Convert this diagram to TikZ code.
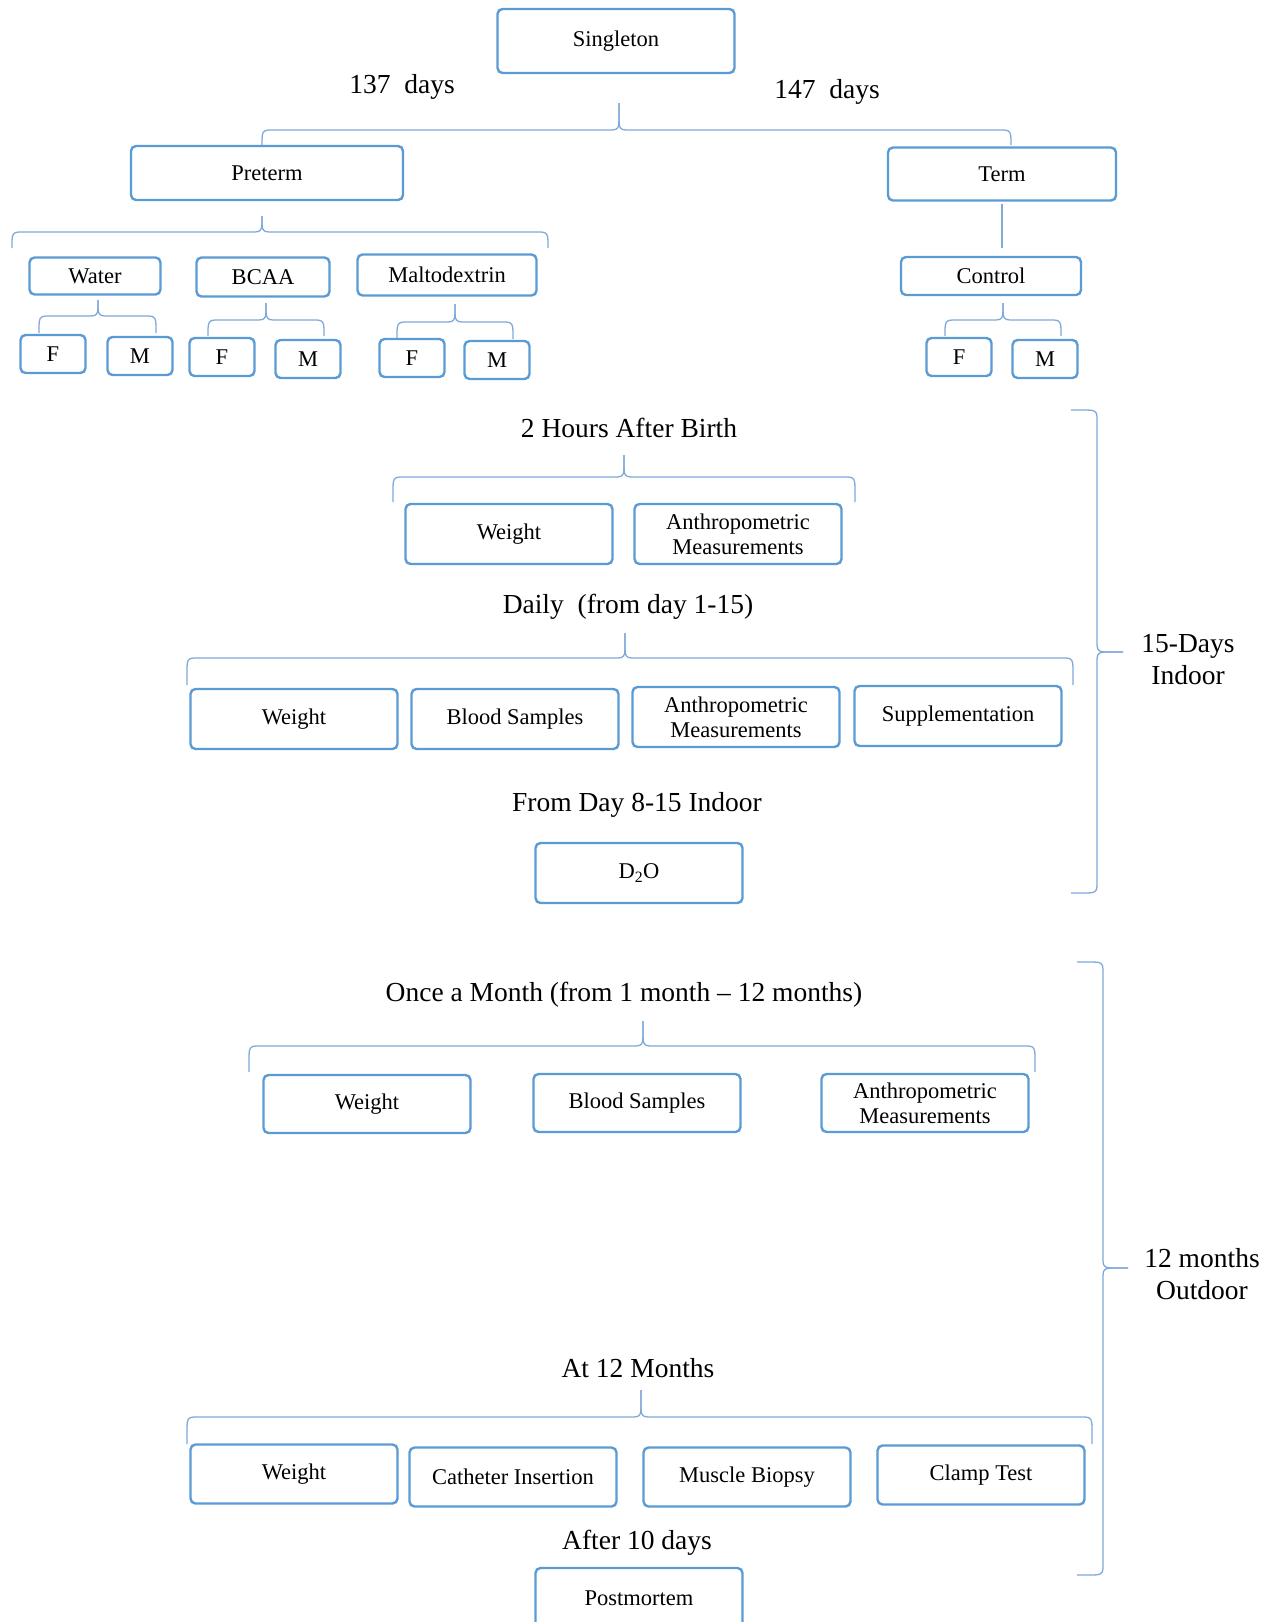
\documentclass[tikz,border=0pt]{standalone}
\usepackage{fontspec}
\setmainfont{Liberation Serif}
\usetikzlibrary{positioning}
\definecolor{Bx}{HTML}{5B9BD5}
\definecolor{Br}{HTML}{7FA9D8}
\newcommand{\bxfont}{\fontsize{22.5}{25}\selectfont}
\newcommand{\hdfont}{\fontsize{27.5}{32}\selectfont}
\tikzset{
  grp/.style={draw=Bx, line width=2.4pt, rounded corners=5pt, fill=white, inner sep=0pt, align=center, font=\bxfont},
  big/.style={grp, minimum width=207pt, minimum height=60pt},
  sex/.style={grp, minimum width=65pt, minimum height=38pt},
  hd/.style={font=\hdfont, align=center, inner sep=0pt},
  brc/.style={draw=Br, line width=1.3pt},
}
% x1, x2, tip x, bar y, tip y, end y
\newcommand{\hbrace}[6]{%
  \draw[brc] (#3,#5) -- (#3,{#4-9}) .. controls (#3,{#4-3}) and ({#3-1},#4) .. ({#3-7},#4)
    -- ({#1+7},#4) .. controls ({#1+1},#4) and (#1,{#4+3}) .. (#1,{#4+10}) -- (#1,#6);
  \draw[brc] (#3,#5) -- (#3,{#4-9}) .. controls (#3,{#4-3}) and ({#3+1},#4) .. ({#3+7},#4)
    -- ({#2-7},#4) .. controls ({#2-1},#4) and (#2,{#4+3}) .. (#2,{#4+10}) -- (#2,#6);}
% end x, bar x, tip x, top y, bottom y, tip y
\newcommand{\vbrace}[6]{%
  \draw[brc] (#3,#6) -- ({#2+9},#6) .. controls ({#2+3},#6) and (#2,{#6-1}) .. (#2,{#6-7})
    -- (#2,{#4+7}) .. controls (#2,{#4+1}) and ({#2-3},#4) .. ({#2-10},#4) -- (#1,#4);
  \draw[brc] (#3,#6) -- ({#2+9},#6) .. controls ({#2+3},#6) and (#2,{#6+1}) .. (#2,{#6+7})
    -- (#2,{#5-7}) .. controls (#2,{#5-1}) and ({#2-3},#5) .. ({#2-10},#5) -- (#1,#5);}

\begin{document}
\begin{tikzpicture}[x=1pt, y=-1pt]
  \useasboundingbox (0,0) rectangle (1278,1622);
  % groups
  \node[grp, minimum width=237pt, minimum height=64pt] (single) at (616,41) {Singleton};
  \node[hd] (d137) at (402,87) {137\ \ days};
  \node[hd] (d147) at (827,92) {147\ \ days};
  \hbrace{262}{1011}{619}{130}{103}{145}
  \node[grp, minimum width=272pt, minimum height=54pt] (pre) at (267,173) {Preterm};
  \node[grp, minimum width=228pt, minimum height=53pt] (term) at (1002,174) {Term};
  \hbrace{12}{548}{262}{232}{216}{248}
  \node[grp, minimum width=131pt, minimum height=37pt] (water) at (95,276) {Water};
  \node[grp, minimum width=133pt, minimum height=39pt] (bcaa) at (263,277) {BCAA};
  \node[grp, minimum width=179pt, minimum height=41pt] (malto) at (447,275) {Maltodextrin};
  \node[grp, minimum width=180pt, minimum height=38pt] (ctrl) at (991,276) {Control};
  \draw[brc, shorten <=2pt, shorten >=8pt] (term.south) -- (term.south |- ctrl.north);
  \hbrace{39}{156}{98}{316}{300}{333}
  \hbrace{208}{324}{266}{320}{303}{336}
  \hbrace{397}{513}{455}{322}{304}{339}
  \hbrace{945}{1061}{1003}{320}{303}{336}
  \node[sex] (wf) at (53,354) {F};
  \node[sex] (wm) at (140,356) {M};
  \node[sex] (bf) at (222,357) {F};
  \node[sex] (bm) at (308,359) {M};
  \node[sex] (mf) at (412,358) {F};
  \node[sex] (mm) at (497,360) {M};
  \node[sex] (cf) at (959,357) {F};
  \node[sex] (cm) at (1045,359) {M};
  % indoor
  \node[hd] (hbirth) at (629,428) {2 Hours After Birth};
  \hbrace{393}{855}{624}{477}{455}{502}
  \node[big] (wbirth) at (509,534) {Weight};
  \node[big] (abirth) at (738,534) {Anthropometric\\Measurements};
  \node[hd] (hdaily) at (628,607) {Daily\ \ (from day 1-15)};
  \hbrace{187}{1073}{625}{658}{633}{685}
  \node[big] (wdaily) at (294,719) {Weight};
  \node[big] (bdaily) at (515,719) {Blood Samples};
  \node[big] (adaily) at (736,717) {Anthropometric\\Measurements};
  \node[big] (sdaily) at (958,716) {Supplementation};
  \node[hd] (hdtwo) at (637,805) {From Day 8-15 Indoor};
  \node[big] (dtwo) at (639,873) {D\textsubscript{2}O};
  \vbrace{1071}{1097}{1123}{410}{893}{652}
  \node[hd] (indoor) at (1188,660) {15-Days\\Indoor};
  % outdoor
  \node[hd] (hmonth) at (624,995) {Once a Month (from 1 month -- 12 months)};
  \hbrace{249}{1035}{643}{1046}{1021}{1072}
  \node[big, minimum height=58pt] (wmonth) at (367,1104) {Weight};
  \node[big, minimum height=58pt] (bmonth) at (637,1103) {Blood Samples};
  \node[big, minimum height=58pt] (amonth) at (925,1103) {Anthropometric\\Measurements};
  \vbrace{1077}{1103}{1128}{962}{1575}{1268}
  \node[hd] (outdoor) at (1202,1274) {12 months\\Outdoor};
  \node[hd] (htwelve) at (638,1368) {At 12 Months};
  \hbrace{187}{1092}{641}{1417}{1390}{1444}
  \node[big, minimum height=59pt] (wtwelve) at (294,1474) {Weight};
  \node[big, minimum height=59pt] (cath) at (513,1477) {Catheter Insertion};
  \node[big, minimum height=59pt] (musc) at (747,1477) {Muscle Biopsy};
  \node[big, minimum height=59pt] (clamp) at (981,1475) {Clamp Test};
  \node[hd] (hafter) at (637,1543) {After 10 days};
  \node[big] (post) at (639,1598) {Postmortem};
\end{tikzpicture}
\end{document}
